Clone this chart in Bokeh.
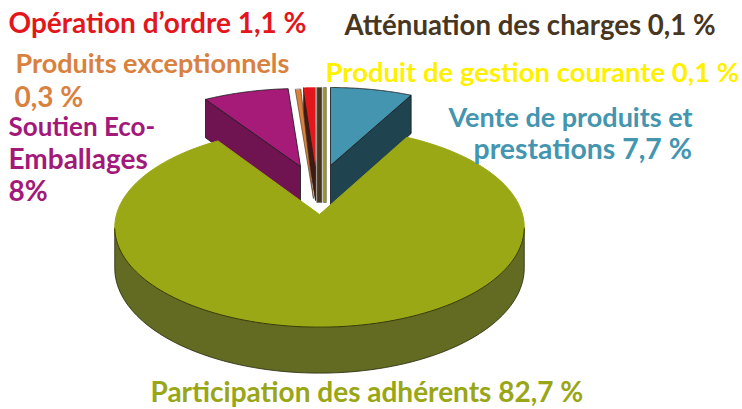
import math
from bokeh.plotting import figure
from bokeh.embed import file_html
from bokeh.resources import INLINE
from bokeh.core.properties import value as fixed

categories = ["Vente de produits et prestations", "Participation des adhérents", "Soutien Eco-Emballages",
              "Produits exceptionnels", "Opération d'ordre", "Atténuation des charges", "Produit de gestion courante"]
shares = [7.7, 82.7, 8.0, 0.3, 1.1, 0.1, 0.1]
face_colors = ["#4395B0", "#9AA815", "#A61B78", "#D9813F", "#E3171B", "#483621", "#9C9A1E"]
wall_colors = ["#20444F", "#636A22", "#6F1450", "#3A2414", "#3F1A12", "#483621", "#9C9A1E"]

label_lines = ["Opération d’ordre 1,1 %", "Produits exceptionnels", "0,3 %", "Soutien Eco-", "Emballages", "8%",
               "Atténuation des charges 0,1 %", "Produit de gestion courante 0,1 %", "Vente de produits et",
               "prestations 7,7 %", "Participation des adhérents 82,7 %"]
label_colors = ["#E3171B", "#D9813F", "#D9813F", "#A2197A", "#A2197A", "#A2197A", "#483621", "#FFF000", "#4395B0",
                "#4395B0", "#99A616"]
label_x = [8, 15, 14, 8, 8, 8, 344, 325, 448, 473, 150]
label_y = [32, 73, 106, 136, 168, 200, 35, 82, 127, 158, 401]
label_size = ["28px", "27px", "28px", "26px", "28px", "28px", "27.6px", "27.5px", "27px", "28.4px", "28px"]

W, H = 742, 409
p = figure(width=W, height=H, x_range=(0, W), y_range=(H, 0), output_backend="svg", toolbar_location=None,
           min_border=0, outline_line_color=None, background_fill_color="white", border_fill_color="white")
p.axis.visible = False
p.grid.visible = False

REAR = dict(A=201.5, B=92.3, k=0.1835, D=40, kd=0.05)
OLIVE = dict(A=203, B=98, k=0.13, D=40, kd=0.13)
geom = [
    dict(apex=(330, 165), **REAR),
    dict(apex=(319, 214), **OLIVE),
    dict(apex=(300, 166), **REAR),
    dict(apex=(313, 198), **{**REAR, "B": 129.8}),
    dict(apex=(315, 165), **REAR),
    dict(apex=(320.5, 165), **REAR),
    dict(apex=(325, 165), **REAR),
]
rot = [0, 0.9, 1.6, 0, 0.7, 0, 0]


def rim(g, deg, depth=False):
    t = math.radians(deg)
    X, Y = math.sin(t), math.cos(t)
    d = 1 + g["k"] * Y
    x = g["apex"][0] + g["A"] * X / d
    y = g["apex"][1] - g["B"] * Y / d
    if depth:
        y += g["D"] / (1 + g["kd"] * Y)
    return x, y


def arc(g, a0, a1, depth=False, n=90):
    return [rim(g, a0 + (a1 - a0) * i / n, depth) for i in range(n + 1)]


def poly(pts, fill, line="#1c1c1c", width=1.0):
    p.patch([q[0] for q in pts], [q[1] for q in pts], fill_color=fill, line_color=line, line_width=width,
            line_alpha=0.85)


angles = []
acc = 0.0
for s, r in zip(shares, rot):
    angles.append((acc * 3.6 + r, (acc + s) * 3.6 + r))
    acc += s

a0, a1 = angles[0]
g = geom[0]
ax, ay = g["apex"]
poly([(ax, ay), rim(g, a1), rim(g, a1, True), (ax, ay + g["D"])], wall_colors[0])
poly([(ax, ay)] + arc(g, a0, a1), face_colors[0])

a0, a1 = angles[2]
g = geom[2]
ax, ay = g["apex"]
poly([(ax, ay), rim(g, a0), rim(g, a0, True), (ax, ay + g["D"])], wall_colors[2])
poly([(ax, ay)] + arc(g, a0, a1), face_colors[2])

a0, a1 = angles[4]
g = geom[4]
ax, ay = g["apex"]
poly([(ax, ay), rim(g, a0), rim(g, a0, True), (ax, ay + g["D"] - 5)], wall_colors[4], line="#2a1a10")
poly([(ax, ay)] + arc(g, a0, a1), face_colors[4], line=face_colors[4], width=0.5)

a0, a1 = angles[3]
g = geom[3]
poly([g["apex"]] + arc(g, a0 - 0.4, a1 + 0.4), face_colors[3], line="#5a3a20", width=0.8)

for idx, half in ((5, 2.6), (6, 1.3)):
    a0, a1 = angles[idx]
    g = geom[idx]
    mx, my = rim(g, (a0 + a1) / 2)
    bottom = g["apex"][1] + g["D"] - 3
    poly([(mx - half, my), (mx + half, my), (mx + half, bottom), (mx - half, bottom)], face_colors[idx],
         line="#77756a", width=1)

a0, a1 = angles[1]
g = geom[1]
span = (97.5, 262.5)
strip = arc(g, *span) + arc(g, *span, depth=True)[::-1]
poly(strip, wall_colors[1], line="#2c2e10")
top = [g["apex"]] + arc(g, a0, a1, n=180)
p.patch([q[0] for q in top], [q[1] for q in top], fill_color=face_colors[1], line_color=face_colors[1], line_width=1)
edge = arc(g, a0, a1, n=180)
p.line([q[0] for q in edge if q[1] > 228], [q[1] for q in edge if q[1] > 228], line_color="#23250c", line_width=1,
       line_alpha=0.85)

src = dict(x=label_x, y=label_y, t=label_lines, c=label_colors, s=label_size)
p.text(x="x", y="y", text="t", text_color="c", text_font_size="s", source=src, text_font=fixed("Lato"),
       text_font_style="bold", text_baseline="alphabetic", text_align="left", y_offset=-11)

open("out.html", "w").write(file_html(p, INLINE))
